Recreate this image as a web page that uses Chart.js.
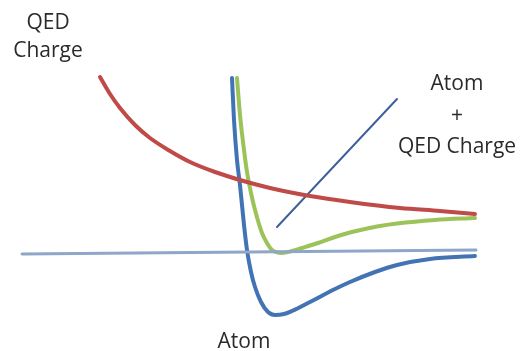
<!DOCTYPE html>
<html>
<head>
<meta charset="utf-8">
<script src="https://cdn.jsdelivr.net/npm/chart.js@4"></script>
<style>
  body { margin: 0; background: #fff; }
  #wrap { width: 521px; height: 351px; }
</style>
</head>
<body>
<div id="wrap"><canvas id="potChart" width="521" height="351"></canvas></div>
<script>
// separation (arbitrary units) and energy (0 = baseline)
const qedX = [100, 110, 120, 135, 150, 170, 190, 215, 240, 270, 310, 350, 400, 440, 475];
const qedY = [176, 159, 145, 128, 115, 102, 91, 81, 73, 65, 57, 51, 45, 42, 39];

const atomX = [232, 234, 237, 240, 244, 247, 251, 255, 261, 268, 275, 284, 292, 310, 335, 350, 375, 397, 430, 475];
const atomY = [175, 133, 93, 68, 28, 3, -19, -34, -49, -59, -62, -61, -58, -49, -36, -29, -19, -12, -6, -3];

const sumX = [237, 240, 244, 247, 251, 255, 262, 267, 272, 282, 292, 302, 318, 335, 350, 365, 380, 397, 435, 475];
const sumY = [175, 138, 103, 81, 60, 43, 20, 10, 3, 0, 2, 5, 10, 16, 20.5, 24, 27, 29.5, 33, 35];

const baseX = [22, 476];
const baseY = [-1, 3];

const pointerX = [277, 397];
const pointerY = [26, 154];

const toPoints = (xs, ys) => xs.map((x, i) => ({ x: x, y: ys[i] }));

const labelPlugin = {
  id: "curveLabels",
  afterDraw: (chart) => {
    const { ctx } = chart;
    ctx.save();
    ctx.fillStyle = "#2a2a2a";
    ctx.font = "21px 'Open Sans', 'Noto Sans', sans-serif";
    ctx.textAlign = "center";
    ctx.textBaseline = "alphabetic";
    ctx.fillText("QED", 48, 29);
    ctx.fillText("Charge", 48, 57);
    ctx.fillText("Atom", 457, 90);
    ctx.fillText("+", 457, 122);
    ctx.fillText("QED Charge", 457, 153);
    ctx.fillText("Atom", 244, 348);
    ctx.restore();
  },
};

function lineSet(label, xs, ys, color, width) {
  return {
    label: label,
    data: toPoints(xs, ys),
    showLine: true,
    borderColor: color,
    borderWidth: width,
    pointRadius: 0,
    fill: false,
    cubicInterpolationMode: "monotone",
    borderCapStyle: "round",
  };
}

const ctx = document.getElementById("potChart").getContext("2d");
const chart = new Chart(ctx, {
  type: "scatter",
  data: {
    datasets: [
      lineSet("Baseline", baseX, baseY, "#8ea6c8", 3),
      lineSet("QED Charge", qedX, qedY, "#bf4b49", 4),
      lineSet("Atom", atomX, atomY, "#4274b4", 4),
      lineSet("Atom + QED Charge", sumX, sumY, "#9cc25a", 4),
      lineSet("Pointer", pointerX, pointerY, "#3d5f9b", 2),
    ],
  },
  options: {
    responsive: false,
    animation: false,
    layout: { padding: 0 },
    clip: false,
    scales: {
      x: { type: "linear", display: false, min: 0, max: 521 },
      y: { type: "linear", display: false, min: -98, max: 253 },
    },
    plugins: {
      legend: { display: false },
      tooltip: { enabled: false },
    },
  },
  plugins: [labelPlugin],
});
</script>
</body>
</html>
